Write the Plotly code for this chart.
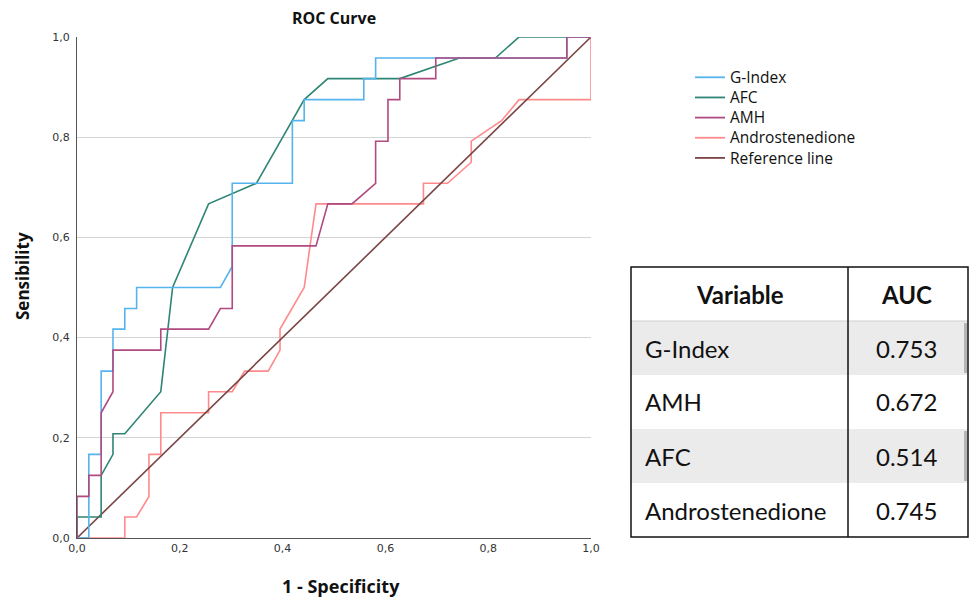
import plotly.graph_objects as go

# ---------------- data ----------------
gindex_x = [0, 0.023, 0.023, 0.047, 0.047, 0.070, 0.070, 0.093, 0.093, 0.116, 0.116, 0.279, 0.302, 0.302, 0.419, 0.419, 0.442, 0.442, 0.558, 0.558, 0.581, 0.581, 0.953, 0.953, 1.0]
gindex_y = [0, 0, 0.167, 0.167, 0.333, 0.333, 0.417, 0.417, 0.458, 0.458, 0.500, 0.500, 0.542, 0.708, 0.708, 0.833, 0.833, 0.875, 0.875, 0.917, 0.917, 0.958, 0.958, 1.0, 1.0]

afc_x = [0, 0, 0.047, 0.047, 0.070, 0.070, 0.093, 0.163, 0.186, 0.256, 0.349, 0.419, 0.442, 0.488, 0.628, 0.744, 0.814, 0.860, 1.0]
afc_y = [0, 0.042, 0.042, 0.125, 0.167, 0.208, 0.208, 0.292, 0.500, 0.667, 0.708, 0.833, 0.875, 0.917, 0.917, 0.958, 0.958, 1.0, 1.0]

amh_x = [0, 0, 0.023, 0.023, 0.047, 0.047, 0.070, 0.070, 0.163, 0.163, 0.256, 0.279, 0.302, 0.302, 0.465, 0.488, 0.535, 0.581, 0.581, 0.605, 0.605, 0.628, 0.628, 0.698, 0.698, 0.953, 0.953, 1.0]
amh_y = [0, 0.083, 0.083, 0.125, 0.125, 0.250, 0.292, 0.375, 0.375, 0.417, 0.417, 0.458, 0.458, 0.583, 0.583, 0.667, 0.667, 0.708, 0.792, 0.792, 0.875, 0.875, 0.917, 0.917, 0.958, 0.958, 1.0, 1.0]

andro_x = [0, 0.093, 0.093, 0.116, 0.140, 0.140, 0.163, 0.163, 0.256, 0.256, 0.302, 0.326, 0.372, 0.395, 0.395, 0.442, 0.465, 0.674, 0.674, 0.721, 0.767, 0.767, 0.826, 0.860, 1.0, 1.0]
andro_y = [0, 0, 0.042, 0.042, 0.083, 0.167, 0.167, 0.250, 0.250, 0.292, 0.292, 0.333, 0.333, 0.375, 0.417, 0.500, 0.667, 0.667, 0.708, 0.708, 0.750, 0.792, 0.833, 0.875, 0.875, 1.0]

ref_x = [0, 1]
ref_y = [0, 1]

series_names = ["G-Index", "AFC", "AMH", "Androstenedione", "Reference line"]
series_colors = ["#55B4EE", "#2F8574", "#B04A80", "#FF8A8C", "#7A4444"]
series_xy = [(gindex_x, gindex_y), (afc_x, afc_y), (amh_x, amh_y), (andro_x, andro_y), (ref_x, ref_y)]

table_header = ["Variable", "AUC"]
table_vars = ["G-Index", "AMH", "AFC", "Androstenedione"]
table_auc = ["0.753", "0.672", "0.514", "0.745"]
table_fills = ["#EBEBEB", "#FFFFFF", "#EBEBEB", "#FFFFFF"]

# ---------------- figure ----------------
W, H = 970, 598
L, R, T, B = 77, 2, 37, 60
plot_w = 514
paper_w = W - L - R
paper_h = H - T - B

def px(xp):
    return (xp - L) / paper_w

def py(yp):
    return (H - B - yp) / paper_h

fig = go.Figure()
for i in [3, 4, 1, 0, 2]:
    xs, ys = series_xy[i]
    fig.add_trace(go.Scatter(
        x=xs, y=ys, mode="lines", name=series_names[i],
        line=dict(color=series_colors[i], width=1.6),
        hoverinfo="skip", showlegend=False,
    ))

fig.update_layout(
    template="none",
    width=W, height=H,
    margin=dict(l=L, r=R, t=T, b=B, autoexpand=False),
    paper_bgcolor="white", plot_bgcolor="white",
    separators=",.",
    font=dict(family="Open Sans, DejaVu Sans, sans-serif", color="#222"),
    title=dict(text="<b>ROC Curve</b>", x=px(L + plot_w / 2), xref="paper", xanchor="center",
               y=1 - 18 / H, yanchor="middle", font=dict(size=16, family="Open Sans", color="#111")),
    xaxis=dict(domain=[0, plot_w / paper_w], range=[0, 1], tickvals=[0, 0.2, 0.4, 0.6, 0.8, 1.0],
               tickformat=".1f", showgrid=False, zeroline=False, showline=True, linecolor="#555",
               linewidth=1.2, ticks="", automargin=False,
               tickfont=dict(size=11, color="#333", family="DejaVu Sans")),
    yaxis=dict(range=[0, 1], tickvals=[0, 0.2, 0.4, 0.6, 0.8, 1.0], tickformat=".1f",
               showgrid=True, gridcolor="#D4D4D4", gridwidth=1.2, zeroline=False, showline=True,
               linecolor="#555", linewidth=1.2, ticks="", ticklabelstandoff=4, automargin=False,
               tickfont=dict(size=11, color="#333", family="DejaVu Sans")),
    showlegend=False,
)

def note(text, x, y, xanchor="center", size=15, angle=0, family="Open Sans", align="center"):
    fig.add_annotation(text=text, xref="paper", yref="paper", x=x, y=y, xanchor=xanchor,
                       yanchor="middle", showarrow=False, textangle=angle, align=align,
                       font=dict(size=size, family=family, color="#111"))

# axis titles
note("<b>1 - Specificity</b>", px(341), py(586), size=18)
note("<b>Sensibility</b>", px(22), py(276), angle=-90, size=17)

# ---------------- legend (key) ----------------
leg_size = 15.5
leg_step = leg_size * 1.3
leg_mid = 117.6
n_leg = len(series_names)
for k, color in enumerate(series_colors):
    yk = leg_mid + (k - (n_leg - 1) / 2) * leg_step
    fig.add_shape(type="line", xref="paper", yref="paper", x0=px(695), x1=px(725),
                  y0=py(yk), y1=py(yk), line=dict(color=color, width=1.8))
note("<br>".join(series_names), px(728), py(leg_mid), xanchor="left", size=leg_size, align="left")

# ---------------- AUC table ----------------
tx0, tx1, tdiv = 631, 968, 848
ty0, row_h = 267, 54
n_rows = len(table_vars) + 1
ty1 = ty0 + row_h * n_rows
for r, fill in enumerate(table_fills):
    y_top = ty0 + row_h * (r + 1)
    fig.add_shape(type="rect", xref="paper", yref="paper", x0=px(tx0), x1=px(tx1),
                  y0=py(y_top), y1=py(y_top + row_h), fillcolor=fill, line=dict(width=0), layer="below")
    if fill != "#FFFFFF":
        fig.add_shape(type="rect", xref="paper", yref="paper", x0=px(tx1 - 4), x1=px(tx1 - 1),
                      y0=py(y_top + 2), y1=py(y_top + row_h - 2), fillcolor="#B5B5B5",
                      line=dict(width=0), layer="below")
fig.add_shape(type="line", xref="paper", yref="paper", x0=px(tx0), x1=px(tx1),
              y0=py(ty0 + row_h), y1=py(ty0 + row_h), line=dict(color="#CFCFCF", width=1))
fig.add_shape(type="rect", xref="paper", yref="paper", x0=px(tx0), x1=px(tx1),
              y0=py(ty0), y1=py(ty1), line=dict(color="#111", width=1.5))
fig.add_shape(type="line", xref="paper", yref="paper", x0=px(tdiv), x1=px(tdiv),
              y0=py(ty0), y1=py(ty1), line=dict(color="#111", width=1.5))

tsize, tfam = 24, "Lato, Open Sans"
note("<b>" + table_header[0] + "</b>", px((tx0 + tdiv) / 2), py(ty0 + row_h / 2), size=tsize, family=tfam)
note("<b>" + table_header[1] + "</b>", px(906), py(ty0 + row_h / 2), size=tsize, family=tfam)
for r, (v, a) in enumerate(zip(table_vars, table_auc)):
    yc = ty0 + row_h * (r + 1) + row_h / 2
    note(v, px(643), py(yc), xanchor="left", size=tsize, family=tfam)
    note(a, px(906), py(yc), size=tsize, family=tfam)

fig.write_html("out.html", config={"displayModeBar": False},
               post_script="document.body.style.margin='0px';document.body.style.overflow='hidden';")
